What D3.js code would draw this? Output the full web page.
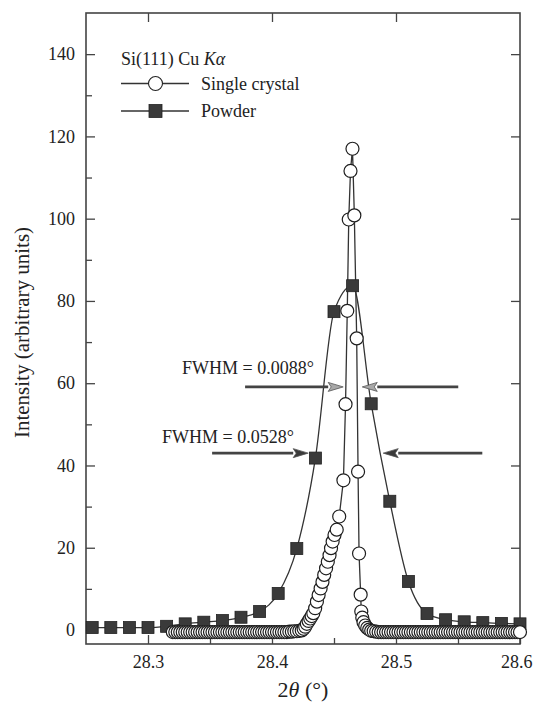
<!DOCTYPE html>
<html>
<head>
<meta charset="utf-8">
<script src="https://d3js.org/d3.v7.min.js"></script>
<style>
  body { margin: 0; background: #fff; }
  text { font-family: "Liberation Serif", "Times New Roman", serif; fill: #222; }
</style>
</head>
<body>
<div id="chart"></div>
<script>

// powder: filled squares, every 0.015 deg
var powderAngle = [28.255, 28.27, 28.285, 28.3, 28.315, 28.33, 28.345, 28.36, 28.375, 28.39, 28.405, 28.42,
                   28.435, 28.45, 28.465, 28.48, 28.495, 28.51, 28.525, 28.54, 28.555, 28.57, 28.585, 28.6];
var powderIntensity = [0.6, 0.6, 0.6, 0.6, 0.9, 1.5, 1.9, 2.3, 3.1, 4.5, 8.9, 19.8,
                       41.8, 77.4, 83.7, 55.0, 31.3, 11.8, 4.0, 2.5, 2.0, 1.8, 1.6, 1.5];

// single crystal: open circles
var crystalAngle = [
  28.320, 28.322, 28.324, 28.326, 28.328, 28.330, 28.332, 28.334, 28.336, 28.338,
  28.340, 28.342, 28.344, 28.346, 28.348, 28.350, 28.352, 28.354, 28.356, 28.358,
  28.360, 28.362, 28.364, 28.366, 28.368, 28.370, 28.372, 28.374, 28.376, 28.378,
  28.380, 28.382, 28.384, 28.386, 28.388, 28.390, 28.392, 28.394, 28.396, 28.398,
  28.400, 28.402, 28.404, 28.406, 28.408, 28.410, 28.412, 28.414, 28.416, 28.418,
  28.420, 28.422, 28.424,
  28.4255, 28.4268, 28.4281, 28.4295, 28.4308, 28.4320, 28.4333, 28.4348, 28.4362, 28.4376,
  28.4392, 28.4407, 28.4421, 28.4436, 28.4450, 28.4464, 28.4476, 28.4489, 28.4504, 28.4522,
  28.4542, 28.4576, 28.4593, 28.4607, 28.4619, 28.4633, 28.4649, 28.4664, 28.4683, 28.4694,
  28.4702, 28.4715, 28.4720, 28.4728, 28.4738, 28.4752, 28.4768, 28.4784,
  28.480, 28.482, 28.484, 28.486, 28.488, 28.490, 28.492, 28.494, 28.496, 28.498,
  28.500, 28.502, 28.504, 28.506, 28.508, 28.510, 28.512, 28.514, 28.516, 28.518,
  28.520, 28.522, 28.524, 28.526, 28.528, 28.530, 28.532, 28.534, 28.536, 28.538,
  28.540, 28.542, 28.544, 28.546, 28.548, 28.550, 28.552, 28.554, 28.556, 28.558,
  28.560, 28.562, 28.564, 28.566, 28.568, 28.570, 28.572, 28.574, 28.576, 28.578,
  28.580, 28.582, 28.584, 28.586, 28.588, 28.590, 28.592, 28.594, 28.596, 28.598,
  28.600
];
var crystalIntensity = [
  -0.5, -0.5, -0.5, -0.5, -0.5, -0.5, -0.5, -0.5, -0.5, -0.5,
  -0.5, -0.5, -0.5, -0.5, -0.5, -0.5, -0.5, -0.5, -0.5, -0.5,
  -0.5, -0.5, -0.5, -0.5, -0.5, -0.5, -0.5, -0.5, -0.5, -0.5,
  -0.5, -0.5, -0.5, -0.5, -0.5, -0.5, -0.5, -0.5, -0.5, -0.5,
  -0.5, -0.5, -0.5, -0.5, -0.5, -0.5, -0.5, -0.4, -0.4, -0.3,
  -0.3, -0.2, -0.1,
  0.3, 0.8, 1.5, 2.2, 2.8, 3.4, 4.1, 5.3, 6.9, 8.5,
  10.1, 11.7, 13.4, 15.0, 16.6, 18.2, 19.9, 21.5, 23.1, 24.4,
  27.6, 36.4, 54.9, 77.6, 99.8, 111.6, 117.0, 100.8, 70.9, 38.5,
  18.6, 8.6, 4.5, 3.0, 1.9, 1.1, 0.5, 0.1,
  -0.2, -0.3, -0.4, -0.5, -0.5, -0.5, -0.5, -0.5, -0.5, -0.5,
  -0.5, -0.5, -0.5, -0.5, -0.5, -0.5, -0.5, -0.5, -0.5, -0.5,
  -0.5, -0.5, -0.5, -0.5, -0.5, -0.5, -0.5, -0.5, -0.5, -0.5,
  -0.5, -0.5, -0.5, -0.5, -0.5, -0.5, -0.5, -0.5, -0.5, -0.5,
  -0.5, -0.5, -0.5, -0.5, -0.5, -0.5, -0.5, -0.5, -0.5, -0.5,
  -0.5, -0.5, -0.5, -0.5, -0.5, -0.5, -0.5, -0.5, -0.5, -0.5,
  -0.5
];

var xMajorTicks = [28.3, 28.4, 28.5, 28.6];
var xMinorTicks = [28.35, 28.45, 28.55];
var yMajorTicks = [0, 20, 40, 60, 80, 100, 120, 140];
var yMinorTicks = [10, 30, 50, 70, 90, 110, 130];

// FWHM annotations (angle, intensity)
var fwhmText = ["FWHM = 0.0088\u00b0", "FWHM = 0.0528\u00b0"];
var fwhmTextAt = [[28.3275, 62.2], [28.3113, 45.5]];
var fwhmLevel = [59.1, 43.0];
var fwhmLeft = [[28.3783, 28.4574], [28.3517, 28.4292]];
var fwhmRight = [[28.5502, 28.4728], [28.5696, 28.4897]];

var W = 533, H = 702;
var margin = {top: 13, right: 13, bottom: 58, left: 86};

var svg = d3.select("#chart").append("svg")
    .attr("width", W)
    .attr("height", H);

var x = d3.scaleLinear()
    .domain([28.25, 28.6])
    .range([margin.left, W - margin.right]);

var y = d3.scaleLinear()
    .domain([-3.4, 150])
    .range([H - margin.bottom, margin.top]);

var ink = "#333";

function styleAxis(g, withText) {
    g.select(".domain").remove();
    g.selectAll(".tick line").attr("stroke", "#444").attr("stroke-width", 1.3);
    if (withText) {
        g.selectAll(".tick text")
            .style("font-family", "'Liberation Serif', serif")
            .style("font-size", "18px")
            .attr("fill", "#222");
    } else {
        g.selectAll(".tick text").remove();
    }
}

var yb = H - margin.bottom, xr = W - margin.right;

var xAxisG = svg.append("g").attr("transform", "translate(0," + yb + ")")
    .call(d3.axisBottom(x).tickValues(xMajorTicks).tickSize(-9).tickPadding(11).tickFormat(d3.format(".1f")))
    .call(styleAxis, true);
// last label sits at the right edge of the page, keep it inside
xAxisG.selectAll(".tick text").filter(function(d) { return d === 28.6; })
    .attr("text-anchor", "end").attr("dx", "12px");

svg.append("g").attr("transform", "translate(0," + yb + ")")
    .call(d3.axisBottom(x).tickValues(xMinorTicks).tickSize(-6))
    .call(styleAxis, false);
svg.append("g").attr("transform", "translate(0," + margin.top + ")")
    .call(d3.axisTop(x).tickValues(xMajorTicks.slice(0, 3)).tickSize(-9))
    .call(styleAxis, false);

svg.append("g").attr("transform", "translate(" + margin.left + ",0)")
    .call(d3.axisLeft(y).tickValues(yMajorTicks).tickSize(-9).tickPadding(11).tickFormat(d3.format("d")))
    .call(styleAxis, true);
svg.append("g").attr("transform", "translate(" + margin.left + ",0)")
    .call(d3.axisLeft(y).tickValues(yMinorTicks).tickSize(-6))
    .call(styleAxis, false);
svg.append("g").attr("transform", "translate(" + xr + ",0)")
    .call(d3.axisRight(y).tickValues(yMajorTicks.slice(1)).tickSize(-9))
    .call(styleAxis, false);

svg.append("rect")
    .attr("x", margin.left).attr("y", margin.top)
    .attr("width", xr - margin.left).attr("height", yb - margin.top)
    .attr("fill", "none").attr("stroke", "#444").attr("stroke-width", 1.6);

// axis titles
svg.append("text")
    .attr("transform", "translate(29," + ((margin.top + yb) / 2 + 4) + ") rotate(-90)")
    .attr("text-anchor", "middle")
    .style("font-size", "21px")
    .text("Intensity (arbitrary units)");

var xt = svg.append("text")
    .attr("x", (margin.left + xr) / 2).attr("y", 697)
    .attr("text-anchor", "middle")
    .style("font-size", "22px");
xt.append("tspan").text("2");
xt.append("tspan").style("font-style", "italic").text("\u03b8");
xt.append("tspan").text(" (\u00b0)");

// data
var powder = powderAngle.map(function(a, i) { return {a: a, v: powderIntensity[i]}; });
var crystal = crystalAngle.map(function(a, i) { return {a: a, v: crystalIntensity[i]}; });

svg.append("path")
    .datum(powder)
    .attr("fill", "none").attr("stroke", ink).attr("stroke-width", 1.3)
    .attr("d", d3.line().curve(d3.curveMonotoneX)
        .x(function(d) { return x(d.a); })
        .y(function(d) { return y(d.v); }));

svg.append("path")
    .datum(crystal)
    .attr("fill", "none").attr("stroke", ink).attr("stroke-width", 1.3)
    .attr("d", d3.line()
        .x(function(d) { return x(d.a); })
        .y(function(d) { return y(d.v); }));

var sq = 12;
svg.append("g").selectAll("rect")
    .data(powder).join("rect")
    .attr("x", function(d) { return x(d.a) - sq / 2; })
    .attr("y", function(d) { return y(d.v) - sq / 2; })
    .attr("width", sq).attr("height", sq)
    .attr("fill", "#3a3a3a").attr("stroke", "#222").attr("stroke-width", 0.8);

svg.append("g").selectAll("circle")
    .data(crystal).join("circle")
    .attr("cx", function(d) { return x(d.a); })
    .attr("cy", function(d) { return y(d.v); })
    .attr("r", 6.5)
    .attr("fill", "#fff").attr("stroke", "#1e1e1e").attr("stroke-width", 1.2);

// FWHM arrows
function arrow(from, tip, level, headFill) {
    var yy = y(level), xf = x(from), xt = x(tip);
    var dir = xt > xf ? 1 : -1, len = 15, hw = 4.5;
    svg.append("line")
        .attr("x1", xf).attr("y1", yy).attr("x2", xt - dir * len).attr("y2", yy)
        .attr("stroke", "#444").attr("stroke-width", 2.6);
    svg.append("path")
        .attr("d", "M" + xt + "," + yy + "L" + (xt - dir * len) + "," + (yy - hw) +
                   "L" + (xt - dir * len * 0.8) + "," + yy +
                   "L" + (xt - dir * len) + "," + (yy + hw) + "Z")
        .attr("fill", headFill).attr("stroke", "#555").attr("stroke-width", 0.8);
}
var headFills = ["#a8a8a8", "#3a3a3a"];
fwhmText.forEach(function(t, i) {
    svg.append("text")
        .attr("x", x(fwhmTextAt[i][0])).attr("y", y(fwhmTextAt[i][1]))
        .style("font-size", "18px")
        .text(t);
    arrow(fwhmLeft[i][0], fwhmLeft[i][1], fwhmLevel[i], headFills[i]);
    arrow(fwhmRight[i][0], fwhmRight[i][1], fwhmLevel[i], headFills[i]);
});

// legend
var lg = svg.append("g");
var title = lg.append("text").attr("x", 121).attr("y", 65).style("font-size", "18px");
title.append("tspan").text("Si(111) Cu ");
title.append("tspan").style("font-style", "italic").text("K\u03b1");

lg.append("line").attr("x1", 121).attr("x2", 189).attr("y1", 83.5).attr("y2", 83.5)
    .attr("stroke", ink).attr("stroke-width", 1.3);
lg.append("circle").attr("cx", 155.5).attr("cy", 83.5).attr("r", 7)
    .attr("fill", "#fff").attr("stroke", "#222").attr("stroke-width", 1.1);
lg.append("text").attr("x", 201).attr("y", 90).style("font-size", "18px").text("Single crystal");

lg.append("line").attr("x1", 121).attr("x2", 189).attr("y1", 111).attr("y2", 111)
    .attr("stroke", ink).attr("stroke-width", 1.3);
lg.append("rect").attr("x", 155.5 - 6.5).attr("y", 111 - 6.5).attr("width", 13).attr("height", 13)
    .attr("fill", "#3a3a3a").attr("stroke", "#222").attr("stroke-width", 0.8);
lg.append("text").attr("x", 201).attr("y", 117).style("font-size", "18px").text("Powder");

</script>
</body>
</html>
